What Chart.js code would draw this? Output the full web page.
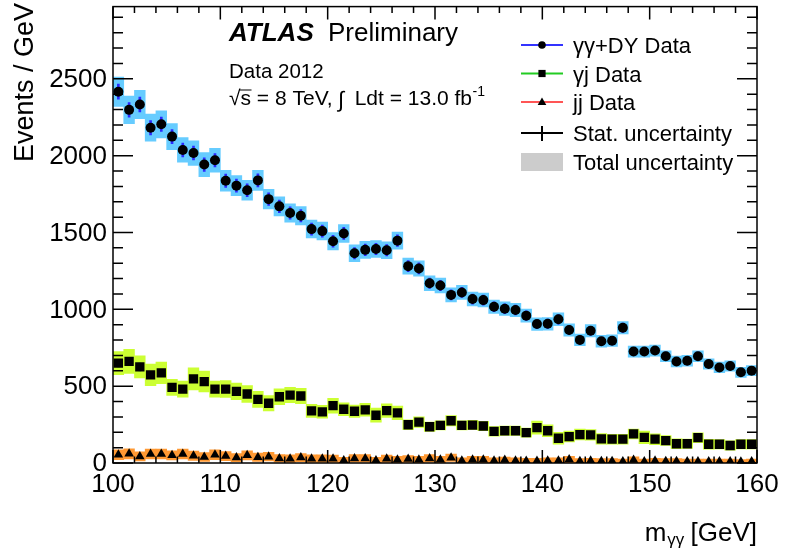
<!DOCTYPE html>
<html>
<head>
<meta charset="utf-8">
<script src="https://cdn.jsdelivr.net/npm/chart.js@4.4.1/dist/chart.umd.min.js"></script>
<style>
html, body { margin: 0; padding: 0; background: #fff; }
#wrap { width: 785px; height: 549px; position: relative; }
</style>
</head>
<body>
<div id="wrap"><canvas id="myChart"></canvas></div>
<script>
// bin centres of m_gg [GeV], 1 GeV bins
const massBins = [
  100.5, 101.5, 102.5, 103.5, 104.5, 105.5, 106.5, 107.5, 108.5, 109.5,
  110.5, 111.5, 112.5, 113.5, 114.5, 115.5, 116.5, 117.5, 118.5, 119.5,
  120.5, 121.5, 122.5, 123.5, 124.5, 125.5, 126.5, 127.5, 128.5, 129.5,
  130.5, 131.5, 132.5, 133.5, 134.5, 135.5, 136.5, 137.5, 138.5, 139.5,
  140.5, 141.5, 142.5, 143.5, 144.5, 145.5, 146.5, 147.5, 148.5, 149.5,
  150.5, 151.5, 152.5, 153.5, 154.5, 155.5, 156.5, 157.5, 158.5, 159.5
];

// gamma gamma + DY
const ggData = [
  2416, 2298, 2333, 2182, 2204, 2124, 2037, 2017, 1942, 1970,
  1837, 1805, 1775, 1839, 1717, 1670, 1627, 1609, 1522, 1509,
  1443, 1494, 1365, 1387, 1393, 1384, 1447, 1281, 1266, 1170,
  1155, 1094, 1110, 1067, 1060, 1017, 1004, 996, 959, 904,
  906, 935, 865, 801, 861, 792, 796, 880, 725, 725,
  732, 695, 661, 665, 695, 644, 622, 631, 590, 601
];
const ggStat = [
  49, 48, 48, 47, 47, 46, 45, 45, 44, 44,
  43, 42, 42, 43, 41, 41, 40, 40, 39, 39,
  38, 39, 37, 37, 37, 37, 38, 36, 36, 34,
  34, 33, 33, 33, 33, 32, 32, 32, 31, 30,
  30, 31, 29, 28, 29, 28, 28, 30, 27, 27,
  27, 26, 26, 26, 26, 25, 25, 25, 24, 25
];
const ggTotal = [
  95, 90, 92, 88, 88, 85, 80, 80, 78, 78,
  68, 66, 65, 66, 64, 62, 60, 60, 58, 58,
  56, 58, 55, 55, 55, 55, 56, 52, 50, 48,
  48, 46, 46, 45, 45, 44, 44, 43, 42, 41,
  41, 42, 40, 38, 40, 38, 38, 40, 36, 36,
  36, 35, 35, 35, 35, 34, 34, 34, 33, 33
];

// gamma jet
const gjData = [
  650, 661, 625, 573, 586, 492, 481, 547, 530, 481,
  481, 466, 449, 414, 389, 431, 442, 436, 339, 333,
  373, 350, 337, 346, 311, 341, 326, 249, 266, 236,
  245, 275, 245, 247, 241, 206, 210, 210, 198, 230,
  210, 161, 172, 185, 183, 157, 155, 155, 189, 167,
  155, 146, 125, 125, 165, 122, 122, 114, 122, 122
];
const gjStat = [
  25, 26, 25, 24, 24, 22, 22, 23, 23, 22,
  22, 22, 21, 20, 20, 21, 21, 21, 18, 18,
  19, 19, 18, 19, 18, 18, 18, 16, 16, 15,
  16, 17, 16, 16, 16, 14, 14, 14, 14, 15,
  14, 13, 13, 14, 14, 13, 12, 12, 14, 13,
  12, 12, 11, 11, 13, 11, 11, 11, 11, 11
];
const gjTotal = [
  75, 78, 72, 70, 70, 52, 52, 72, 68, 52,
  55, 54, 54, 52, 50, 52, 50, 50, 42, 42,
  48, 42, 40, 42, 46, 44, 44, 32, 35, 30,
  30, 34, 30, 30, 30, 31, 30, 30, 30, 43,
  38, 38, 35, 35, 35, 35, 32, 32, 32, 41,
  35, 32, 32, 30, 32, 32, 30, 30, 30, 31
];

// jet jet
const jjData = [
  54, 60, 43, 58, 58, 50, 58, 47, 39, 54,
  45, 35, 50, 37, 41, 30, 28, 35, 28, 28,
  28, 17, 30, 30, 17, 28, 21, 26, 21, 30,
  21, 34, 15, 21, 21, 15, 19, 15, 13, 13,
  15, 15, 22, 12, 14, 12, 12, 10, 20, 10,
  14, 12, 12, 10, 10, 10, 10, 10, 8, 10
];
const jjStat = [
  7, 8, 7, 8, 8, 7, 8, 7, 6, 7,
  7, 6, 7, 6, 6, 5, 5, 6, 5, 5,
  5, 4, 5, 5, 4, 5, 5, 5, 5, 5,
  5, 6, 4, 5, 5, 4, 4, 4, 4, 4,
  4, 4, 5, 3, 4, 3, 3, 3, 4, 3,
  4, 3, 3, 3, 3, 3, 3, 3, 3, 3
];
const jjTotal = [
  32, 33, 30, 32, 32, 30, 32, 30, 28, 32,
  30, 27, 30, 27, 28, 25, 25, 26, 25, 25,
  24, 20, 24, 24, 20, 24, 22, 23, 22, 24,
  22, 24, 18, 22, 22, 18, 20, 18, 17, 17,
  18, 18, 22, 16, 17, 16, 16, 15, 20, 15,
  17, 16, 16, 15, 15, 15, 15, 15, 14, 15
];

const xTickLabels = [100, 110, 120, 130, 140, 150, 160];
const yTickLabels = [0, 500, 1000, 1500, 2000, 2500];
const xMin = 100, xMax = 160, yMax = 2970;

const FONT = "'Liberation Sans', Arial, Helvetica, sans-serif";

// error box / bar: floating bar from value-err to value+err
function errBars(vals, errs, color, thickness) {
  const ds = {
    type: 'bar',
    data: massBins.map((m, i) => ({ x: m, y: [vals[i] - errs[i], vals[i] + errs[i]] })),
    backgroundColor: color,
    borderWidth: 0,
    grouped: false,
    barPercentage: 1,
    categoryPercentage: 1,
    order: thickness ? 2 : 3
  };
  if (thickness) ds.barThickness = thickness;
  return ds;
}

function markers(vals, style, r) {
  return {
    type: 'line',
    data: massBins.map((m, i) => ({ x: m, y: vals[i] })),
    showLine: false,
    pointStyle: style,
    pointRadius: r,
    pointBackgroundColor: '#000',
    pointBorderColor: '#000',
    pointBorderWidth: 0,
    order: 1
  };
}

function legendMarker(c, style, x, y) {
  c.fillStyle = '#000';
  c.beginPath();
  if (style === 'circle') {
    c.arc(x, y, 3.8, 0, Math.PI * 2);
  } else if (style === 'rect') {
    c.rect(x - 3.6, y - 3.6, 7.2, 7.2);
  } else {
    c.moveTo(x, y - 4.5); c.lineTo(x + 4.3, y + 3); c.lineTo(x - 4.3, y + 3); c.closePath();
  }
  c.fill();
}

const atlasDecor = {
  id: 'atlasDecor',
  afterDraw(chart) {
    const c = chart.ctx, a = chart.chartArea;
    const xs = chart.scales.x, ys = chart.scales.y;
    c.save();

    // frame and inward ticks on all four sides
    c.strokeStyle = '#000';
    c.lineWidth = 1.5;
    c.strokeRect(a.left, a.top, a.right - a.left, a.bottom - a.top);
    c.beginPath();
    for (let v = xMin; v <= xMax; v += 2) {
      const px = xs.getPixelForValue(v);
      const len = v % 10 === 0 ? 13 : 6.5;
      c.moveTo(px, a.bottom); c.lineTo(px, a.bottom - len);
      c.moveTo(px, a.top); c.lineTo(px, a.top + len);
    }
    for (let v = 0; v <= yMax; v += 100) {
      const py = ys.getPixelForValue(v);
      const len = v % 500 === 0 ? 20 : 10;
      c.moveTo(a.left, py); c.lineTo(a.left + len, py);
      c.moveTo(a.right, py); c.lineTo(a.right - len, py);
    }
    c.stroke();

    // tick labels
    c.fillStyle = '#000';
    c.font = '26px ' + FONT;
    c.textAlign = 'right';
    c.textBaseline = 'middle';
    yTickLabels.forEach(v => c.fillText(String(v), a.left - 6, ys.getPixelForValue(v) + 1));
    c.textAlign = 'center';
    c.textBaseline = 'alphabetic';
    xTickLabels.forEach(v => c.fillText(String(v), xs.getPixelForValue(v), a.bottom + 29));

    // axis titles
    c.save();
    c.translate(33, 3);
    c.rotate(-Math.PI / 2);
    c.font = '27px ' + FONT;
    c.textAlign = 'right';
    c.fillText('Events / GeV', 0, 0);
    c.restore();

    c.textAlign = 'left';
    c.font = '26px ' + FONT;
    const wM = c.measureText('m').width;
    const wG = c.measureText(' [GeV]').width;
    c.font = '17px ' + FONT;
    const wS = c.measureText('γγ').width;
    let tx = a.right - wG - wS - wM;
    c.font = '26px ' + FONT;
    c.fillText('m', tx, 541);
    c.font = '17px ' + FONT;
    c.fillText('γγ', tx + wM + 1, 545);
    c.font = '26px ' + FONT;
    c.fillText(' [GeV]', tx + wM + wS, 541);

    // ATLAS label
    c.font = 'italic bold 26px ' + FONT;
    c.fillText('ATLAS', 229, 41);
    c.font = '26px ' + FONT;
    c.fillText('Preliminary', 328, 41);
    c.font = '20.5px ' + FONT;
    c.fillText('Data 2012', 229, 77.5);

    // sqrt(s) and luminosity line
    const base2 = 104.5;
    c.font = '21px ' + FONT;
    c.fillText('√s = 8 TeV,', 229, base2);
    const wRoot = c.measureText('√').width;
    const wS1 = c.measureText('s').width;
    c.lineWidth = 1;
    c.beginPath();
    c.moveTo(229 + wRoot - 1, base2 - 14.5);
    c.lineTo(229 + wRoot + wS1 + 0.5, base2 - 14.5);
    c.stroke();
    c.font = '22px ' + FONT;
    c.fillText('∫', 338, base2 + 2);
    c.font = '21px ' + FONT;
    c.textAlign = 'right';
    c.fillText('Ldt = 13.0 fb', 472, base2);
    c.textAlign = 'left';
    c.font = '14px ' + FONT;
    c.fillText('-1', 472.5, base2 - 9);

    // legend
    const lx0 = 521, lx1 = 563, lxm = 542, tx0 = 573;
    const rows = [
      { y: 45, label: 'γγ+DY Data', color: '#3333ff', style: 'circle' },
      { y: 73.5, label: 'γj Data', color: '#22cc22', style: 'rect' },
      { y: 102, label: 'jj Data', color: '#ff5555', style: 'triangle' }
    ];
    c.font = '22px ' + FONT;
    c.lineWidth = 2;
    rows.forEach(r => {
      c.strokeStyle = r.color;
      c.beginPath(); c.moveTo(lx0, r.y); c.lineTo(lx1, r.y); c.stroke();
      legendMarker(c, r.style, lxm, r.y);
      c.fillStyle = '#000';
      c.fillText(r.label, tx0, r.y + 8);
    });
    c.strokeStyle = '#000';
    c.beginPath();
    c.moveTo(lx0, 133); c.lineTo(lx1, 133);
    c.moveTo(lxm, 126); c.lineTo(lxm, 141);
    c.stroke();
    c.fillText('Stat. uncertainty', tx0, 141);
    c.fillStyle = '#cccccc';
    c.fillRect(lx0, 153, lx1 - lx0, 18);
    c.fillStyle = '#000';
    c.fillText('Total uncertainty', tx0, 170);

    c.restore();
  }
};

const ctx = document.getElementById('myChart').getContext('2d');
new Chart(ctx, {
  type: 'bar',
  data: {
    datasets: [
      errBars(ggData, ggTotal, '#66ccff'),
      errBars(gjData, gjTotal, '#ccff33'),
      errBars(jjData, jjTotal, '#ff9933'),
      errBars(ggData, ggStat, '#2a2aff', 2),
      errBars(gjData, gjStat, '#22cc22', 2),
      errBars(jjData, jjStat, '#ff3333', 2),
      markers(ggData, 'circle', 5),
      markers(gjData, 'rect', 6.6),
      markers(jjData, 'triangle', 5.5)
    ]
  },
  options: {
    responsive: true,
    maintainAspectRatio: false,
    animation: false,
    layout: { padding: { left: 113, right: 28, top: 1, bottom: 86 } },
    plugins: { legend: { display: false }, tooltip: { enabled: false } },
    scales: {
      x: { type: 'linear', min: xMin, max: xMax, offset: false, display: false },
      y: { type: 'linear', min: 0, max: yMax, display: false }
    }
  },
  plugins: [atlasDecor]
});
</script>
</body>
</html>
